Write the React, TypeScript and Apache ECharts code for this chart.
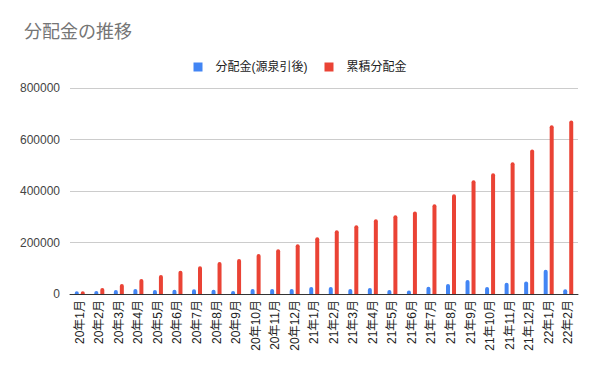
import React, { useEffect, useRef } from "react";
import * as echarts from "echarts";

const categories = [
  "20年1月", "20年2月", "20年3月", "20年4月", "20年5月", "20年6月", "20年7月", "20年8月", "20年9月",
  "20年10月", "20年11月", "20年12月", "21年1月", "21年2月", "21年3月", "21年4月", "21年5月",
  "21年6月", "21年7月", "21年8月", "21年9月", "21年10月", "21年11月", "21年12月", "22年1月", "22年2月",
];

const distribution = [
  11000, 11500, 15500, 19500, 15500, 16500, 18000, 16500, 11500, 19000, 19000, 19000, 27000,
  27500, 19500, 23500, 15500, 14000, 28500, 38500, 54500, 27000, 43500, 49000, 94000, 18500,
];

const cumulative = [
  11000, 23000, 38500, 58000, 73500, 90000, 108000, 124500, 136000, 155000, 174000, 193000, 220000,
  247500, 267000, 290500, 306000, 320000, 348500, 387000, 441500, 468500, 512000, 561000, 655000, 673500,
];

const seriesNames = ["分配金(源泉引後)", "累積分配金"];
const titleText = "分配金の推移";

const FONT = "Arial, 'Liberation Sans', 'Noto Sans CJK JP', sans-serif";

export default function App() {
  const ref = useRef<HTMLDivElement>(null);
  useEffect(() => {
    if (!ref.current) return;
    const chart = echarts.init(ref.current, undefined, { renderer: "svg" });
    chart.setOption({
      animation: false,
      backgroundColor: "#ffffff",
      title: {
        text: titleText,
        left: 19,
        top: 18,
        textStyle: { fontSize: 18, fontWeight: "normal", color: "#757575", fontFamily: FONT },
      },
      legend: {
        top: 56,
        left: "center",
        icon: "rect",
        itemWidth: 9,
        itemHeight: 9,
        itemGap: 17,
        textStyle: { fontSize: 12, color: "#222222", fontFamily: FONT, padding: [0, 0, 0, 8] },
        data: seriesNames,
      },
      grid: { left: 70, right: 22, top: 88, bottom: 77 },
      xAxis: {
        type: "category",
        data: categories,
        axisLine: { lineStyle: { color: "#333333", width: 1 } },
        axisTick: { show: false },
        axisLabel: { rotate: 90, fontSize: 12, color: "#222222", fontFamily: FONT, margin: 6, interval: 0 },
      },
      yAxis: {
        type: "value",
        min: 0,
        max: 800000,
        interval: 200000,
        axisLine: { show: false },
        axisTick: { show: false },
        splitLine: { lineStyle: { color: "#cccccc" } },
        axisLabel: {
          fontSize: 12,
          color: "#444444",
          fontFamily: FONT,
          margin: 10,
          formatter: (v: number) => String(v),
        },
      },
      series: [
        {
          name: seriesNames[0],
          type: "bar",
          data: distribution,
          barWidth: 4,
          barGap: "50%",
          itemStyle: { color: "#4285F4", borderRadius: [2, 2, 0, 0] },
        },
        {
          name: seriesNames[1],
          type: "bar",
          data: cumulative,
          barWidth: 4,
          barGap: "50%",
          itemStyle: { color: "#EA4335", borderRadius: [2, 2, 0, 0] },
        },
      ],
    });
    return () => chart.dispose();
  }, []);
  return (
    <div
      ref={ref}
      style={{ position: "absolute", left: 0, top: 0, width: 600, height: 371 }}
    />
  );
}
